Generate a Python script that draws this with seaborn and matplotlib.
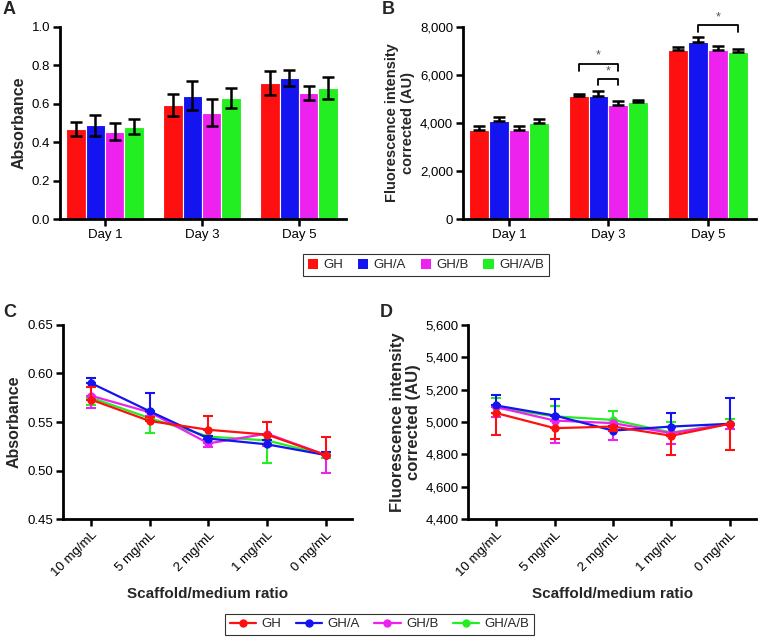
import numpy as np
import pandas as pd
import matplotlib
matplotlib.use("Agg")
import matplotlib.pyplot as plt
import seaborn as sns
from matplotlib.ticker import FuncFormatter
from matplotlib.patches import Patch
from matplotlib.lines import Line2D

# ---- data ----
groups = ["GH", "GH/A", "GH/B", "GH/A/B"]
colors = ["#FF1010", "#1414F0", "#EE22EE", "#22EE22"]
days = ["Day 1", "Day 3", "Day 5"]

# panel A: absorbance (mean, sd) per group, per day
abs_mean = {"GH": [0.470, 0.592, 0.708], "GH/A": [0.488, 0.642, 0.733],
            "GH/B": [0.455, 0.552, 0.656], "GH/A/B": [0.481, 0.630, 0.682]}
abs_err = {"GH": [0.037, 0.056, 0.063], "GH/A": [0.054, 0.075, 0.040],
           "GH/B": [0.045, 0.070, 0.038], "GH/A/B": [0.040, 0.052, 0.058]}

# panel B: fluorescence (mean, sd)
fl_mean = {"GH": [3721, 5101, 7052], "GH/A": [4070, 5115, 7359],
           "GH/B": [3707, 4753, 7052], "GH/A/B": [4000, 4878, 6955]}
fl_err = {"GH": [140, 111, 112], "GH/A": [195, 195, 209],
          "GH/B": [168, 139, 167], "GH/A/B": [153, 84, 111]}

ratios = ["10 mg/mL", "5 mg/mL", "2 mg/mL", "1 mg/mL", "0 mg/mL"]

# panel C: absorbance vs scaffold/medium ratio (one-sided error bars)
c_mean = {"GH": [0.573, 0.551, 0.542, 0.537, 0.516],
          "GH/A": [0.590, 0.561, 0.533, 0.527, 0.516],
          "GH/B": [0.577, 0.560, 0.528, 0.538, 0.516],
          "GH/A/B": [0.575, 0.554, 0.535, 0.531, 0.516]}
c_err = {"GH": [0.013, 0.004, 0.014, 0.013, 0.019],
         "GH/A": [0.005, 0.019, 0.003, 0.004, 0.003],
         "GH/B": [0.013, 0.004, 0.004, 0.013, 0.019],
         "GH/A/B": [0.007, 0.015, 0.003, 0.023, 0.003]}
c_dir = {"GH": "up", "GH/A": "up", "GH/B": "down", "GH/A/B": "down"}

# panel D: fluorescence vs scaffold/medium ratio (one-sided error bars)
d_mean = {"GH": [5055, 4962, 4972, 4915, 4989],
          "GH/A": [5102, 5040, 4947, 4972, 4989],
          "GH/B": [5092, 5009, 4993, 4931, 4989],
          "GH/A/B": [5090, 5035, 5013, 4935, 4989]}
d_err = {"GH": [138, 68, 30, 118, 161],
         "GH/A": [66, 103, 30, 83, 158],
         "GH/B": [64, 140, 103, 68, 30],
         "GH/A/B": [57, 65, 56, 68, 30]}
d_dir = {"GH": "down", "GH/A": "up", "GH/B": "down", "GH/A/B": "up"}

sns.set_style("ticks")
plt.rcParams["font.family"] = ["Liberation Sans", "DejaVu Sans"]

fig = plt.figure(figsize=(7.59, 6.37), dpi=100)
axA = fig.add_axes([0.079, 0.656, 0.377, 0.302])
axB = fig.add_axes([0.610, 0.656, 0.386, 0.302])
axC = fig.add_axes([0.083, 0.185, 0.381, 0.305])
axD = fig.add_axes([0.617, 0.185, 0.379, 0.305])


def style_axis(ax):
    for s in ["top", "right"]:
        ax.spines[s].set_visible(False)
    for s in ["left", "bottom"]:
        ax.spines[s].set_linewidth(2)
        ax.spines[s].set_color("black")
    ax.tick_params(axis="both", direction="out", length=5, width=1.8,
                   labelsize=9.5, colors="black", pad=2)


def bar_panel(ax, mean, err, up_only):
    rows = []
    for g in groups:
        for d, v in zip(days, mean[g]):
            rows.append({"day": d, "group": g, "value": v})
    df = pd.DataFrame(rows)
    sns.barplot(data=df, x="day", y="value", hue="group", hue_order=groups,
                palette=colors, errorbar=None, width=0.8, edgecolor="white",
                linewidth=0.8, saturation=1, ax=ax, legend=False)
    for cont, g in zip(ax.containers, groups):
        xs = [b.get_x() + b.get_width() / 2 for b in cont]
        e = np.array(err[g])
        yerr = [np.zeros_like(e), e] if up_only else e
        ax.errorbar(xs, mean[g], yerr=yerr, fmt="none", ecolor="black",
                    elinewidth=1.8, capsize=4.5, capthick=1.8, zorder=5)
    ax.set_xlim(-0.464, 2.485)
    ax.set_xlabel("")


# ---- A ----
bar_panel(axA, abs_mean, abs_err, up_only=False)
style_axis(axA)
axA.set_ylim(0, 1.0)
axA.set_yticks(np.arange(0, 1.01, 0.2))
axA.yaxis.set_major_formatter(FuncFormatter(lambda v, p: f"{v:.1f}"))
axA.set_ylabel("Absorbance", fontsize=11.5, fontweight="bold", labelpad=4)

# ---- B ----
bar_panel(axB, fl_mean, fl_err, up_only=True)
style_axis(axB)
axB.set_ylim(0, 8000)
axB.set_yticks(np.arange(0, 8001, 2000))
axB.yaxis.set_major_formatter(FuncFormatter(lambda v, p: f"{v:,.0f}"))
axB.set_ylabel("Fluorescence intensity\ncorrected (AU)", fontsize=10.5,
               fontweight="bold", labelpad=4, linespacing=1.1)


def bracket(ax, x1, x2, y, h, ystar):
    ax.plot([x1, x1, x2, x2], [y - h, y, y, y - h], color="black", lw=1.3,
            clip_on=False, zorder=6)
    ax.text((x1 + x2) / 2, ystar, "*", ha="center", va="center",
            fontsize=9, color="#555555", clip_on=False)


bracket(axB, 0.7, 1.1, 6467, 290, 6800)
bracket(axB, 0.9, 1.1, 5826, 240, 6150)
bracket(axB, 1.9, 2.3, 8084, 290, 8400)


# ---- C / D ----
def line_panel(ax, mean, err, direction):
    x = np.arange(len(ratios))
    rows = []
    for g in groups:
        for xi, v in zip(x, mean[g]):
            rows.append({"x": xi, "group": g, "value": v})
    df = pd.DataFrame(rows)
    for i in [3, 2, 1, 0]:
        g = groups[i]
        sub = df[df["group"] == g]
        e = np.array(err[g], dtype=float)
        z = np.zeros_like(e)
        yerr = [z, e] if direction[g] == "up" else [e, z]
        ax.errorbar(sub["x"], sub["value"], yerr=yerr, fmt="none",
                    ecolor=colors[i], elinewidth=1.5, capsize=3.5,
                    capthick=1.5, zorder=2 + (4 - i))
        sns.lineplot(data=sub, x="x", y="value", color=colors[i], lw=1.6,
                     marker="o", markersize=6, markeredgewidth=0,
                     ax=ax, legend=False, zorder=3 + (4 - i))
    ax.set_xticks(x)
    ax.set_xticklabels(ratios, rotation=45, ha="right",
                       rotation_mode="anchor")
    ax.set_xlim(-0.48, 4.45)
    ax.set_xlabel("Scaffold/medium ratio", fontsize=11, fontweight="bold",
                  labelpad=6)


line_panel(axC, c_mean, c_err, c_dir)
style_axis(axC)
axC.set_ylim(0.45, 0.65)
axC.set_yticks(np.arange(0.45, 0.651, 0.05))
axC.yaxis.set_major_formatter(FuncFormatter(lambda v, p: f"{v:.2f}"))
axC.set_ylabel("Absorbance", fontsize=11.5, fontweight="bold", labelpad=4)

line_panel(axD, d_mean, d_err, d_dir)
style_axis(axD)
axD.set_ylim(4400, 5600)
axD.set_yticks(np.arange(4400, 5601, 200))
axD.yaxis.set_major_formatter(FuncFormatter(lambda v, p: f"{v:,.0f}"))
axD.set_ylabel("Fluorescence intensity\ncorrected (AU)", fontsize=12,
               fontweight="bold", labelpad=3, linespacing=1.1)

# ---- panel letters ----
for lab, x, y in [("A", 0.004, 0.985), ("B", 0.503, 0.985),
                  ("C", 0.004, 0.510), ("D", 0.500, 0.510)]:
    fig.text(x, y, lab, fontsize=13, fontweight="bold", va="center")

# ---- legends ----
bar_handles = [Patch(facecolor=c, edgecolor="none", label=g)
               for g, c in zip(groups, colors)]
leg1 = fig.legend(handles=bar_handles, loc="center", ncol=4,
                  bbox_to_anchor=(0.561, 0.584), fontsize=9.5, frameon=True,
                  fancybox=False, edgecolor="black", handlelength=0.8,
                  handleheight=0.8, handletextpad=0.4, columnspacing=1.1,
                  borderpad=0.35)
leg1.get_frame().set_linewidth(0.8)

line_handles = [Line2D([0], [0], color=c, lw=1.6, marker="o", markersize=5,
                       label=g) for g, c in zip(groups, colors)]
leg2 = fig.legend(handles=line_handles, loc="center", ncol=4,
                  bbox_to_anchor=(0.5, 0.020), fontsize=9.5, frameon=True,
                  fancybox=False, edgecolor="black", handlelength=2.0,
                  handletextpad=0.4, columnspacing=1.1, borderpad=0.35)
leg2.get_frame().set_linewidth(0.8)

fig.savefig("out.png", dpi=100)
